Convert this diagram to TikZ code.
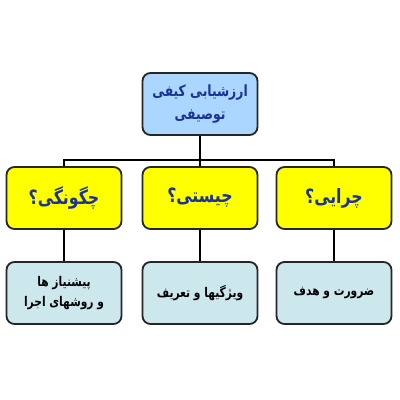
\documentclass[tikz,border=0pt]{standalone}
\usepackage{fontspec}
\usepackage{xcolor}
\newfontfamily\arabicfont[Script=Arabic, FakeStretch=0.8]{DejaVu Sans}
\TeXXeTstate=1
\definecolor{topblue}{RGB}{170,214,255}
\definecolor{boxyellow}{RGB}{255,255,0}
\definecolor{paleblue}{RGB}{204,232,236}
\definecolor{inkblue}{RGB}{28,50,150}
\tikzset{
    box/.style={draw=black!85, line width=1.3pt, rounded corners=2mm,
        minimum width=28.75mm, minimum height=15.5mm, align=center, inner sep=1pt},
    headbox/.style={box, fill=topblue, text=inkblue,
        font=\arabicfont\bfseries\fontsize{11}{17}\selectfont},
    askbox/.style={box, fill=boxyellow, text=inkblue,
        font=\arabicfont\bfseries\fontsize{14}{16}\selectfont},
    notebox/.style={box, fill=paleblue, text=black,
        font=\arabicfont\bfseries\fontsize{9.5}{14}\selectfont},
    link/.style={line width=1pt}
}

\begin{document}
\begin{tikzpicture}[x=0.25mm, y=-0.25mm]
        \fill[white] (0, 0) rectangle (400, 400);

        \node[headbox] (root) at (200, 104) {\beginR ارزشیابی کیفی\endR\\\beginR توصیفی\endR};

        \node[askbox] (how) at (64, 198) {\beginR چگونگی؟\endR};
        \node[askbox] (what) at (200, 198) {\beginR چیستی؟\endR};
        \node[askbox] (why) at (334, 198) {\beginR چرایی؟\endR};

        \node[notebox] (howb) at (64, 293) {\beginR پیشنیاز ها\endR\\\beginR و روشهای اجرا\endR};
        \node[notebox] (whatb) at (200, 293) {\beginR ویژگیها و تعریف\endR};
        \node[notebox] (whyb) at (334, 293) {\beginR ضرورت و هدف\endR};

        \coordinate (bus) at (200, 160);
        \draw[link] (root.south) -- (what.north);
        \draw[link] (how.north) |- (bus) -| (why.north);

        \draw[link] (how.south) -- (howb.north);
        \draw[link] (what.south) -- (whatb.north);
        \draw[link] (why.south) -- (whyb.north);
    \end{tikzpicture}
\end{document}
